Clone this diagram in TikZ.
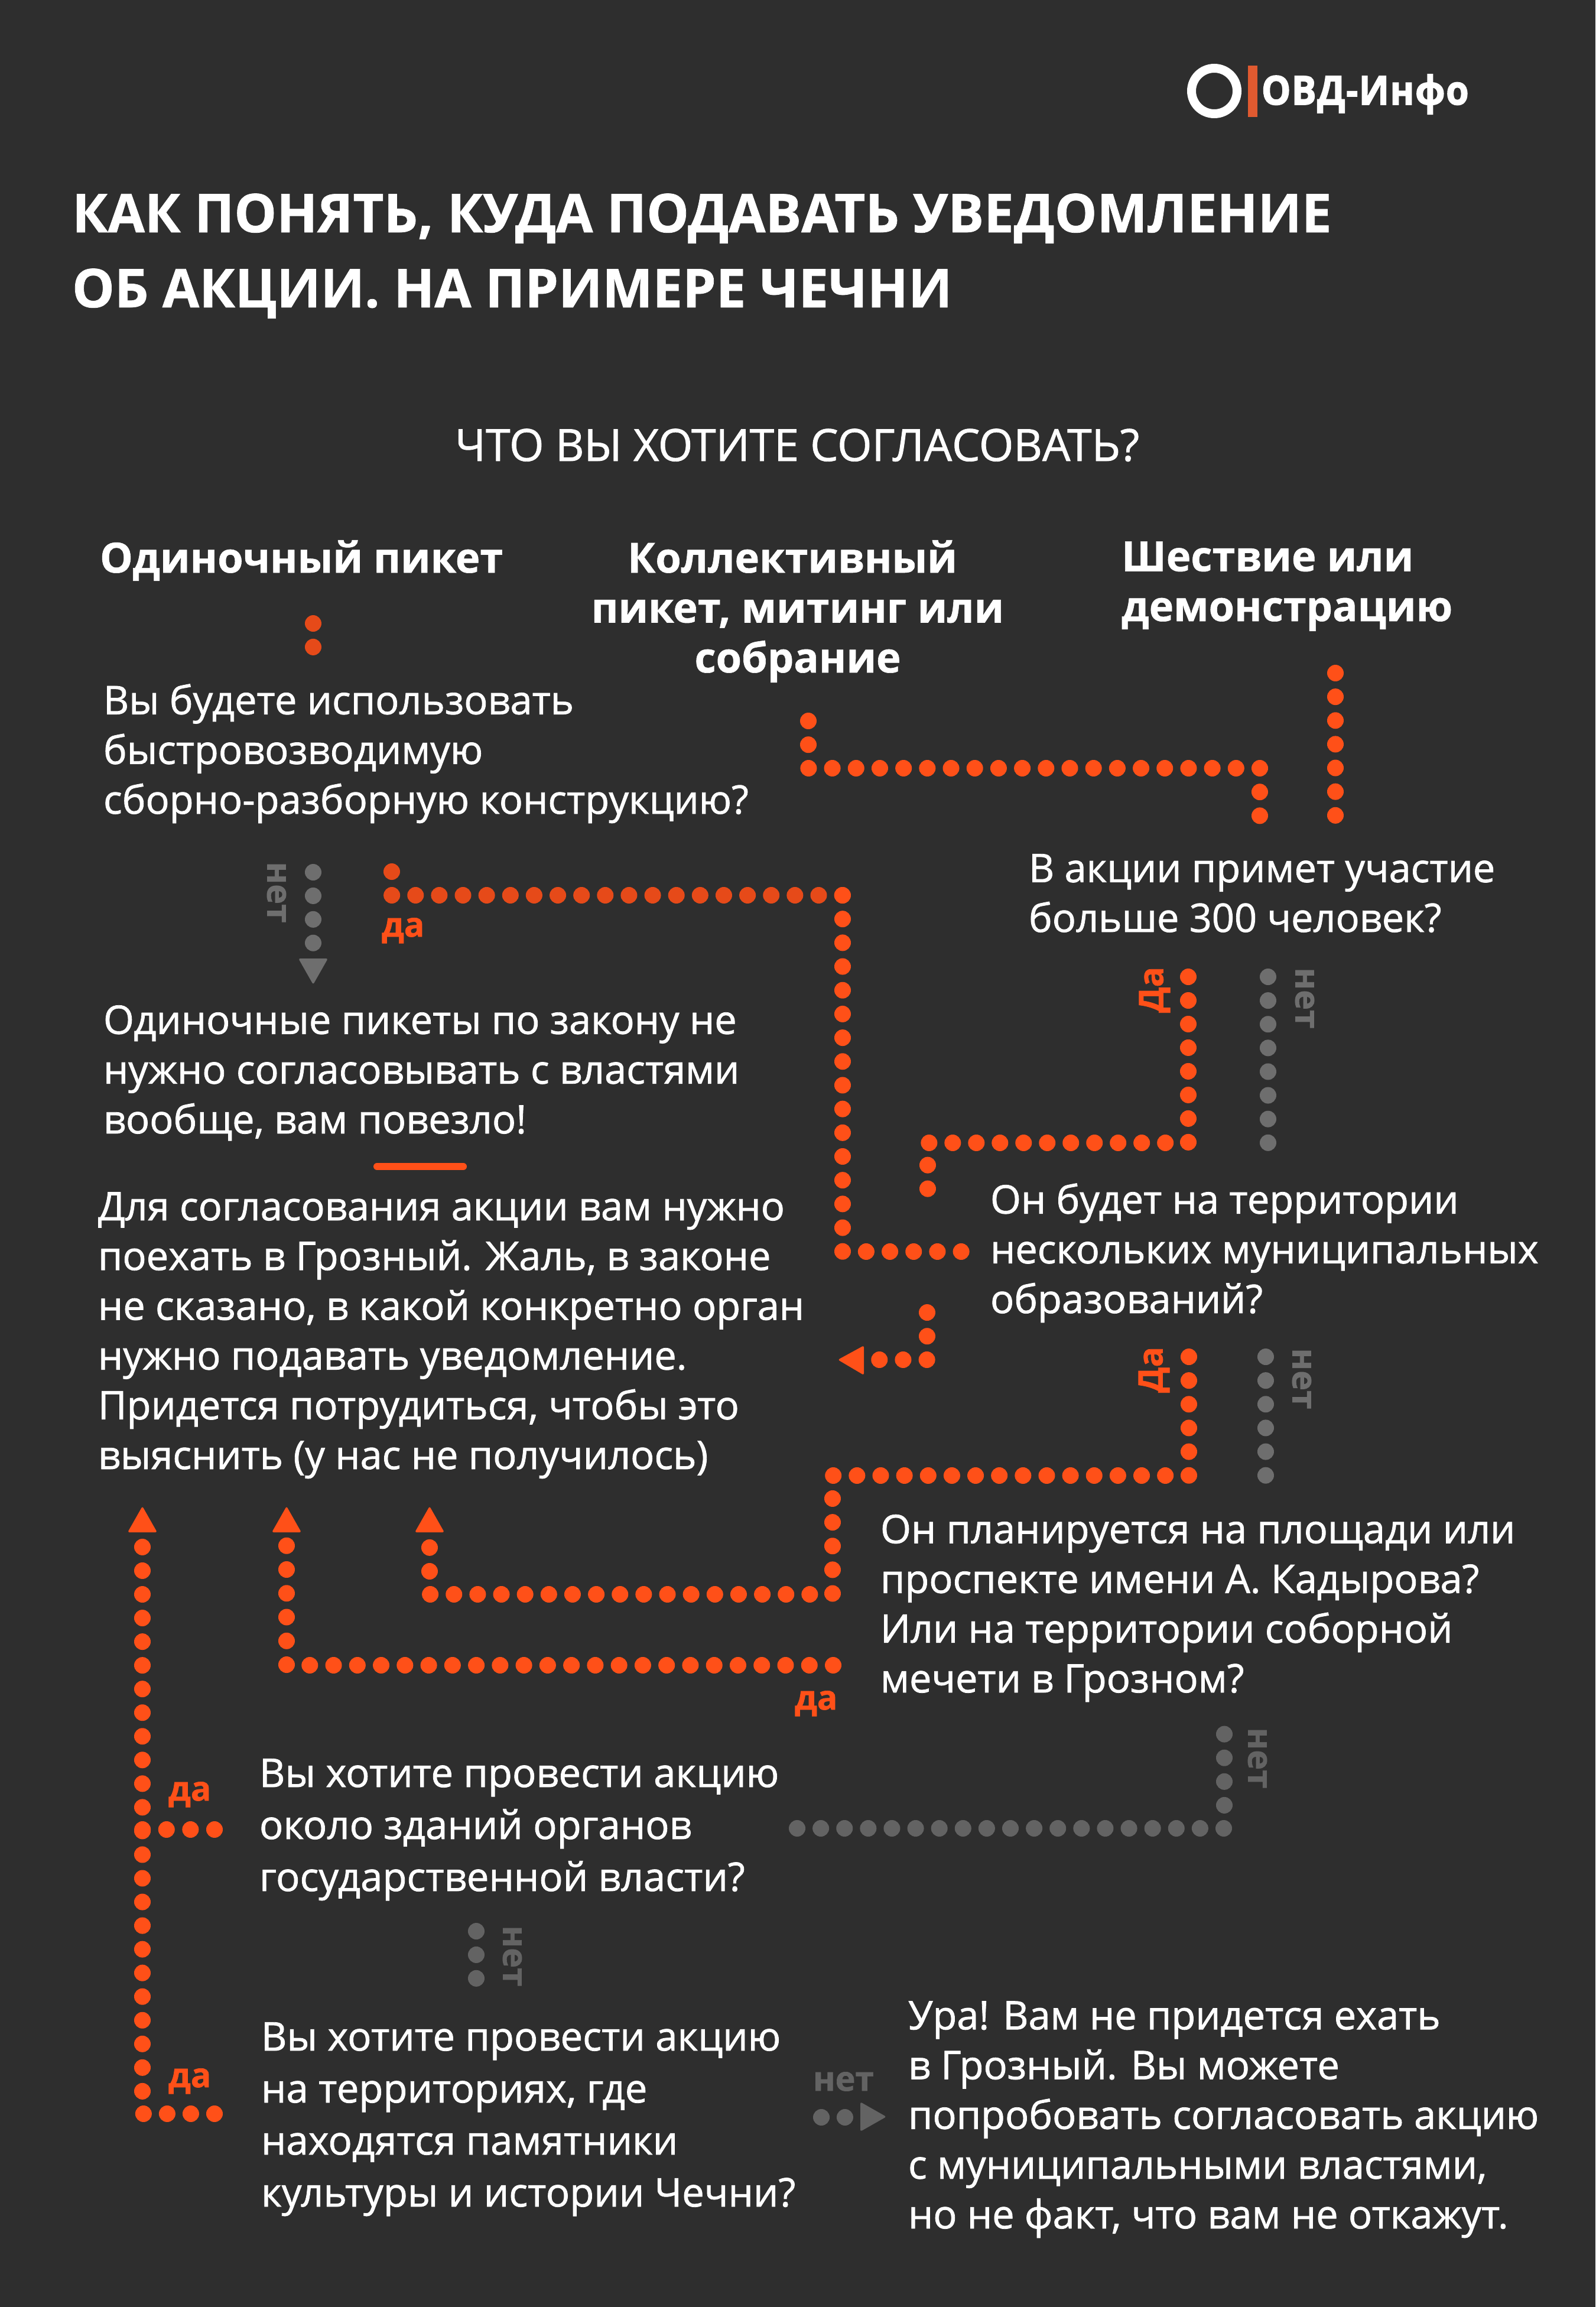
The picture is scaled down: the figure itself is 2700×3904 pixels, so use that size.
\documentclass[tikz,border=0pt]{standalone}
\usepackage{fontspec}
\setmainfont{Open Sans}
\newcommand{\xb}{\bfseries\addfontfeature{FakeBold=1.2}}
\newcommand{\hb}{\bfseries\addfontfeature{FakeBold=0.8}}
\newcommand{\rb}{\addfontfeature{FakeBold=1.2}}
\definecolor{bgc}{HTML}{2E2E2E}
\definecolor{org}{HTML}{FF5018}
\definecolor{orgd}{HTML}{E64A19}
\definecolor{gra}{HTML}{6E6E6E}
\definecolor{grb}{HTML}{636363}
\definecolor{logoc}{HTML}{E05A30}
\newcommand{\fsz}[2]{\fontsize{#1pt}{#2pt}\selectfont}
\tikzset{
  x=1pt,y=-1pt,
  dots/.style={line width=28pt,line cap=round,dash pattern=on 0.01pt off #1pt},
  txt/.style={anchor=base west,inner sep=0pt,outer sep=0pt,align=left,text=white},
  body/.style={txt,font=\fsz{66.7}{84.2}\rb},
  bodyb/.style={txt,font=\fsz{67}{88}\rb},
  head/.style={txt,font=\fsz{70.3}{84.5}\hb},
  titl/.style={txt,font=\fsz{90.3}{127}\hb},
  lab/.style={inner sep=0pt,outer sep=0pt,font=\fsz{57}{57}\xb},
  tip/.style={rounded corners=3pt}
}
\begin{document}
\begin{tikzpicture}
\useasboundingbox (0,0) rectangle (2700,3904);
\fill[bgc] (0,0) rectangle (2700,3904);
% logo
\draw[white,line width=15pt] (2055,154) ellipse (38.5pt and 38.5pt);
\fill[logoc] (2112,111) rectangle (2128,198);
\node[txt,font=\fsz{62}{62}\bfseries\addfontfeature{FakeBold=2.5,LetterSpace=2.6}] (logo) at (2135,177) {\scalebox{1}[1.09]{ОВД-Инфо}};
% titles
\node[titl] (title) at (122,520) {КАК ПОНЯТЬ, КУДА ПОДАВАТЬ УВЕДОМЛЕНИЕ\\ОБ АКЦИИ. НА ПРИМЕРЕ ЧЕЧНИ};
\node[txt,font=\fsz{75}{75}\rb] (q) at (770,780) {ЧТО ВЫ ХОТИТЕ СОГЛАСОВАТЬ?};
\node[head] (h1) at (169,969) {Одиночный пикет};
\node[head,align=center,anchor=base] (h2) at (1350,1138) {Коллективный\hspace*{18pt}\\пикет, митинг или\\собрание};
\node[head] (h3) at (1898,1051) {Шествие или\\демонстрацию};
% body
\node[body] (b1) at (175,1377) {Вы будете использовать\\быстровозводимую\\сборно-разборную конструкцию?};
\node[body] (b2) at (1741,1577) {В акции примет участие\\больше 300 человек?};
\node[body] (b3) at (175,1918) {Одиночные пикеты по закону не\\нужно согласовывать с властями\\вообще, вам повезло!};
\node[body] (b4) at (166,2486) {Для согласования акции вам нужно\\поехать в Грозный. Жаль, в законе\\не сказано, в какой конкретно орган\\нужно подавать уведомление.\\Придется потрудиться, чтобы это\\выяснить (у нас не получилось)};
\node[body] (b5) at (1676,2222) {Он будет на территории\\нескольких муниципальных\\образований?};
\node[body] (b6) at (1490,2864) {Он планируется на площади или\\проспекте имени А. Кадырова?\\Или на территории соборной\\мечети в Грозном?};
\node[bodyb] (b7) at (439,3200) {Вы хотите провести акцию\\около зданий органов\\государственной власти?};
\node[bodyb] (b8) at (442,3734) {Вы хотите провести акцию\\на территориях, где\\находятся памятники\\культуры и истории Чечни?};
\node[body] (b9) at (1537,3771) {Ура! Вам не придется ехать\\в Грозный. Вы можете\\попробовать согласовать акцию\\с муниципальными властями,\\но не факт, что вам не откажут.};
% underline
\coordinate (ul1) at (638,1974); \coordinate (ul2) at (784,1974);
\draw[org,line width=12pt,line cap=round] (ul1) -- (ul2);
% coordinates
\coordinate (a1) at (530,1055); \coordinate (a2) at (530,1095);
\coordinate (n1) at (530,1476); \coordinate (n2) at (530,1596);
\coordinate (p1) at (663,1475); \coordinate (p2) at (663,1515); \coordinate (p3) at (1426,1515);
\coordinate (p4) at (1426,2118); \coordinate (p5) at (1627,2118);
\coordinate (c1) at (1368,1220); \coordinate (c2) at (1368,1300); \coordinate (c3) at (2132,1300); \coordinate (c4) at (2132,1381);
\coordinate (s1) at (2260,1139); \coordinate (s2) at (2260,1380);
\coordinate (d1) at (2011,1653); \coordinate (d2) at (2011,1934); \coordinate (d3) at (1570,1934); \coordinate (d4) at (1570,2012);
\coordinate (e1) at (2146,1653); \coordinate (e2) at (2146,1934);
\coordinate (g1) at (1569,2221); \coordinate (g2) at (1569,2301); \coordinate (g3) at (1488,2301);
\coordinate (h1a) at (2012,2296); \coordinate (h2a) at (2012,2497); \coordinate (h3a) at (1409,2497); \coordinate (h4a) at (1409,2698); \coordinate (h5a) at (727,2698); \coordinate (h6a) at (727,2618);
\coordinate (i1) at (1410,2818); \coordinate (i2) at (485,2818); \coordinate (i3) at (485,2615);
\coordinate (j1) at (363,3577); \coordinate (j2) at (241,3577); \coordinate (j3) at (241,2617);
\coordinate (j4) at (363,3096); \coordinate (j5) at (241,3096);
\coordinate (k1) at (806,3268); \coordinate (k2) at (806,3348);
\coordinate (l1) at (1349,3094); \coordinate (l2) at (2072,3094); \coordinate (l3) at (2072,2934);
\coordinate (m1) at (2142,2296); \coordinate (m2) at (2142,2497);
\coordinate (o1) at (1390,3583); \coordinate (o2) at (1430,3583);
% connectors
\draw[orgd,dots=39.9] (a1) -- (a2);
\draw[gra,dots=39.9] (n1) -- (n2);
\draw[orgd,dots=40.12] (p1) -- (p2) -- (p3);
\draw[org,dots=40.17] (p3) -- (p4) -- (p5);
\draw[org,dots=40.18] (c1) -- (c2) -- (c3) -- (c4);
\draw[org,dots=40.12] (s1) -- (s2);
\draw[org,dots=39.97] (d1) -- (d2) -- (d3) -- (d4);
\draw[gra,dots=40.1] (e1) -- (e2);
\draw[org,dots=40.18] (g1) -- (g2) -- (g3);
\draw[org,dots=40.13] (h1a) -- (h2a) -- (h3a) -- (h4a) -- (h5a) -- (h6a);
\draw[org,dots=40.25] (i1) -- (i2) -- (i3);
\draw[org,dots=40.03] (j1) -- (j2) -- (j3);
\draw[org,dots=40.6] (j4) -- (j5);
\draw[grb,dots=39.9] (k1) -- (k2);
\draw[grb,dots=40.1] (l1) -- (l2) -- (l3);
\draw[gra,dots=40.12] (m1) -- (m2);
\draw[grb,dots=39.9] (o1) -- (o2);
% arrow tips
\fill[gra,tip] (530,1666) -- (505,1622) -- (555,1622) -- cycle;
\fill[org,tip] (1418,2301) -- (1462,2277) -- (1462,2327) -- cycle;
\fill[org,tip] (241,2549) -- (216,2593) -- (266,2593) -- cycle;
\fill[org,tip] (485,2549) -- (460,2593) -- (510,2593) -- cycle;
\fill[org,tip] (727,2549) -- (702,2593) -- (752,2593) -- cycle;
\fill[grb,tip] (1500,3582) -- (1456,3557) -- (1456,3607) -- cycle;
% labels
\node[lab,text=gra,rotate=-90] (t1) at (468,1510) {нет};
\node[lab,text=org,anchor=base west] (t2) at (646,1585) {да};
\node[lab,text=org,rotate=90] (t3) at (1954,1675) {Да};
\node[lab,text=gra,rotate=-90] (t4) at (2208,1689) {нет};
\node[lab,text=org,rotate=90] (t5) at (1953,2318) {Да};
\node[lab,text=gra,rotate=-90] (t6) at (2203,2333) {нет};
\node[lab,text=org,anchor=base west] (t7) at (1345,2893) {да};
\node[lab,text=grb,rotate=-90] (t8) at (2128,2975) {нет};
\node[lab,text=org,anchor=base west] (t9) at (285,3047) {да};
\node[lab,text=org,anchor=base west] (t10) at (285,3532) {да};
\node[lab,text=grb,rotate=-90] (t11) at (867,3310) {нет};
\node[lab,text=grb,anchor=base west] (t12) at (1376,3538) {нет};
\end{tikzpicture}
\end{document}
